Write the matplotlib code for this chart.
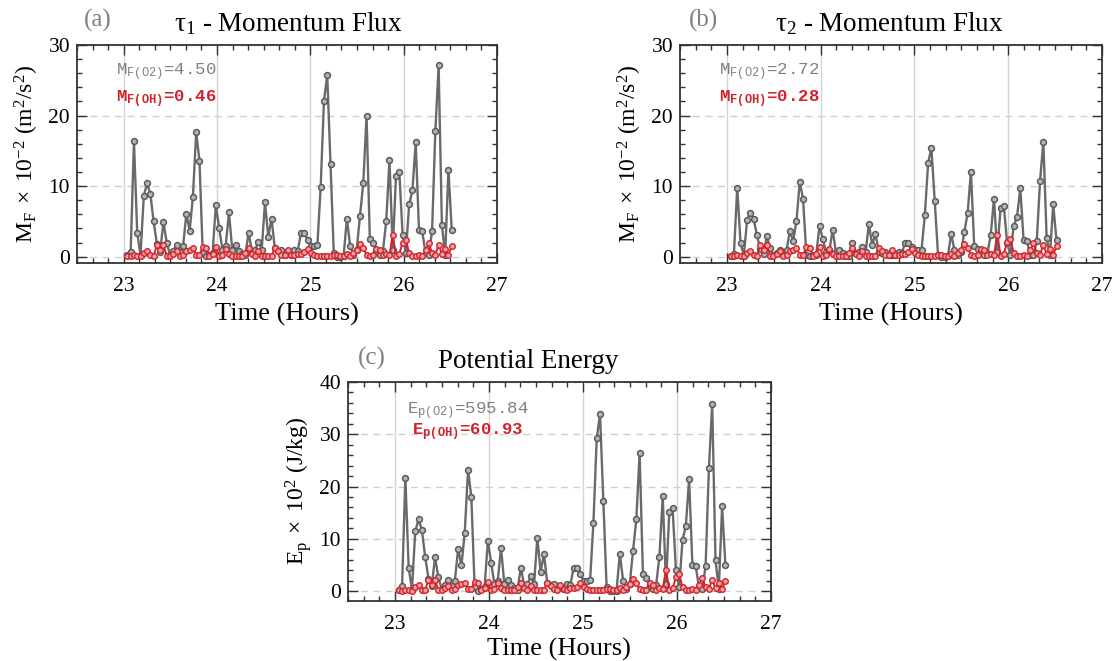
import numpy as np
import matplotlib
matplotlib.use("Agg")
import matplotlib.pyplot as plt
from matplotlib.ticker import MultipleLocator

# ---------------- data ----------------
t_start = 23.04          # hours
t_step = 0.0351          # sampling step (hours)

mf1_o2 = [0.2, 0.7, 16.4, 3.4, 0.2, 8.6, 10.4, 8.9, 5.0, 1.8,
          0.7, 4.9, 2.0, 0.3, 0.8, 1.7, 0.7, 1.5, 6.1, 3.7,
          8.5, 17.6, 13.6, 0.5, 0.1, 0.3, 0.5, 7.3, 4.1, 1.0,
          1.5, 6.3, 1.0, 1.7, 0.8, 0.4, 0.2, 3.4, 0.8, 1.0,
          2.1, 1.0, 7.7, 2.8, 5.4, 1.2, 0.8, 1.0, 0.3, 0.5,
          0.3, 1.0, 0.8, 3.4, 3.4, 2.4, 1.5, 1.5, 1.7, 9.9,
          22.1, 25.7, 13.1, 0.5, 0.0, 0.0, 0.1, 5.4, 1.5, 0.3,
          1.0, 5.8, 10.4, 20.0, 2.5, 1.9, 0.8, 0.3, 0.8, 5.0,
          13.7, 1.0, 11.5, 12.0, 3.1, 0.5, 7.4, 9.4, 16.2, 3.8,
          3.6, 0.5, 0.3, 3.6, 17.8, 27.1, 4.5, 0.3, 12.3, 3.8]

mf1_oh = [0.15, 0.1, 0.25, 0.15, 0.1, 0.5, 0.85, 0.25, 0.15, 1.6,
          0.9, 1.6, 0.15, 0.15, 0.4, 0.75, 0.15, 0.3, 0.85, 1.0,
          1.2, 0.3, 0.3, 1.35, 1.2, 0.15, 0.4, 1.35, 0.15, 0.3,
          1.1, 0.4, 0.15, 0.15, 0.15, 0.15, 0.5, 1.2, 0.4, 0.15,
          0.75, 0.15, 0.15, 0.15, 0.15, 1.2, 0.75, 0.3, 0.2, 0.9,
          0.3, 0.2, 0.4, 0.4, 0.6, 1.1, 0.5, 0.3, 0.15, 0.15,
          0.15, 0.15, 0.15, 0.3, 0.3, 0.15, 0.15, 0.4, 0.15, 0.5,
          1.0, 1.8, 1.2, 0.3, 0.15, 0.2, 1.1, 0.9, 0.2, 0.4,
          0.3, 3.1, 0.15, 0.4, 2.0, 2.4, 0.5, 0.15, 0.15, 0.3,
          0.15, 0.9, 1.9, 0.5, 0.3, 1.7, 0.4, 1.1, 0.3, 1.45]

mf2_o2 = [0.1, 0.4, 9.8, 2.0, 0.1, 5.2, 6.2, 5.3, 3.0, 1.1,
          0.4, 2.9, 1.2, 0.2, 0.5, 1.0, 0.4, 0.9, 3.7, 2.2,
          5.1, 10.6, 8.2, 0.3, 0.1, 0.2, 0.3, 4.4, 2.5, 0.6,
          0.9, 3.8, 0.6, 1.0, 0.5, 0.2, 0.1, 2.0, 0.5, 0.6,
          1.3, 0.6, 4.6, 1.7, 3.2, 0.7, 0.5, 0.6, 0.2, 0.3,
          0.2, 0.6, 0.5, 2.0, 2.0, 1.4, 0.9, 0.9, 1.0, 5.9,
          13.3, 15.4, 7.9, 0.3, 0.0, 0.0, 0.1, 3.2, 0.9, 0.2,
          0.6, 3.5, 6.2, 12.0, 1.5, 1.1, 0.5, 0.2, 0.5, 3.0,
          8.2, 0.6, 6.9, 7.2, 1.9, 0.3, 4.4, 5.6, 9.7, 2.3,
          2.2, 0.3, 0.2, 2.2, 10.7, 16.3, 2.7, 0.2, 7.4, 2.3]

mf2_oh = [0.15, 0.1, 0.25, 0.15, 0.1, 0.5, 0.85, 0.25, 0.15, 1.6,
          0.9, 1.6, 0.15, 0.15, 0.4, 0.75, 0.15, 0.3, 0.85, 1.0,
          1.2, 0.3, 0.3, 1.3, 1.2, 0.15, 0.4, 1.4, 0.15, 0.3,
          1.1, 0.4, 0.15, 0.15, 0.15, 0.15, 0.5, 1.2, 0.4, 0.15,
          0.75, 0.15, 0.15, 0.15, 0.15, 1.2, 0.75, 0.3, 0.2, 0.9,
          0.3, 0.2, 0.4, 0.4, 0.6, 1.1, 0.5, 0.3, 0.15, 0.15,
          0.15, 0.15, 0.15, 0.3, 0.3, 0.15, 0.15, 0.4, 0.15, 0.5,
          1.0, 1.8, 1.2, 0.3, 0.15, 0.2, 1.1, 0.9, 0.2, 0.4,
          0.3, 3.1, 0.15, 0.4, 2.1, 2.45, 0.5, 0.15, 0.15, 0.3,
          0.15, 0.9, 1.9, 0.5, 0.3, 1.7, 0.4, 1.1, 0.3, 1.45]

ep_o2 = [0.3, 0.9, 21.6, 4.5, 0.3, 11.4, 13.7, 11.7, 6.6, 2.4,
         0.9, 6.5, 2.6, 0.4, 1.1, 2.2, 0.9, 2.0, 8.1, 4.9,
         11.2, 23.2, 18.0, 0.7, 0.1, 0.4, 0.7, 9.6, 5.4, 1.3,
         2.0, 8.3, 1.3, 2.2, 1.1, 0.5, 0.3, 4.5, 1.1, 1.3,
         2.8, 1.3, 10.2, 3.7, 7.1, 1.6, 1.1, 1.3, 0.4, 0.7,
         0.4, 1.3, 1.1, 4.5, 4.5, 3.2, 2.0, 2.0, 2.2, 13.1,
         29.2, 33.9, 17.3, 0.7, 0.0, 0.0, 0.1, 7.1, 2.0, 0.4,
         1.3, 7.7, 13.7, 26.4, 3.3, 2.5, 1.1, 0.4, 1.1, 6.6,
         18.1, 1.3, 15.2, 15.8, 4.1, 0.7, 9.8, 12.4, 21.4, 5.0,
         4.8, 0.7, 0.4, 4.8, 23.5, 35.8, 5.9, 0.4, 16.2, 5.0]

ep_oh = [0.2, 0.1, 0.3, 0.2, 0.1, 0.7, 1.1, 0.3, 0.2, 2.1,
         1.2, 2.1, 0.2, 0.2, 0.5, 1.0, 0.2, 0.4, 1.1, 1.3,
         1.6, 0.4, 0.4, 1.8, 1.6, 0.2, 0.5, 1.8, 0.2, 0.4,
         1.5, 0.5, 0.2, 0.2, 0.2, 0.2, 0.7, 1.6, 0.5, 0.2,
         1.0, 0.2, 0.2, 0.2, 0.2, 1.6, 1.0, 0.4, 0.3, 1.2,
         0.4, 0.3, 0.5, 0.5, 0.8, 1.5, 0.7, 0.4, 0.2, 0.2,
         0.2, 0.2, 0.2, 0.4, 0.4, 0.2, 0.2, 0.5, 0.2, 0.7,
         1.3, 2.4, 1.6, 0.4, 0.2, 0.3, 1.5, 1.2, 0.3, 0.5,
         0.4, 4.1, 0.2, 0.5, 2.6, 3.2, 0.7, 0.2, 0.2, 0.4,
         0.2, 1.2, 2.5, 0.7, 0.4, 2.2, 0.5, 1.5, 0.4, 1.9]

xticks = [23, 24, 25, 26, 27]
titles = ["\u03c4$_\\mathregular{1}$ - Momentum Flux",
          "\u03c4$_\\mathregular{2}$ - Momentum Flux",
          "Potential Energy"]
panel_tags = ["(a)", "(b)", "(c)"]
notes_o2 = ["M$_\\mathregular{F(O2)}$=4.50", "M$_\\mathregular{F(O2)}$=2.72",
            "E$_\\mathregular{p(O2)}$=595.84"]
notes_oh = ["M$_\\mathregular{F(OH)}$=0.46", "M$_\\mathregular{F(OH)}$=0.28",
            "E$_\\mathregular{p(OH)}$=60.93"]

# ---------------- style ----------------
SERIF = ["Liberation Serif", "DejaVu Serif"]
MONO = ["Liberation Mono", "DejaVu Sans Mono"]
GRAY = "#6a6a6a"
GRAY_FACE = "#b5b5b5"
RED = "#d2222b"
RED_FACE = "#f2a0a0"
FRAME = "#333333"

plt.rcParams["font.family"] = SERIF
plt.rcParams["mathtext.default"] = "regular"

W, H = 1115, 661
fig = plt.figure(figsize=(W / 100, H / 100), dpi=100)


def px_axes(l, r, t, b):
    return fig.add_axes([l / W, 1 - b / H, (r - l) / W, (b - t) / H])


ax_a = px_axes(77, 497, 45, 263)
ax_b = px_axes(680, 1102, 45, 263)
ax_c = px_axes(348, 771, 382, 601)


def draw(ax, o2, oh, ylim, yticks, note_xy, note2_xy, i):
    n = len(o2)
    t = t_start + t_step * np.arange(n)
    ax.set_xlim(22.5, 27)
    ax.set_ylim(*ylim)
    for xv in xticks:
        ax.axvline(xv, color="#d4d4d4", lw=1.0, zorder=0)
    for yv in yticks:
        ax.axhline(yv, color="#cfcfcf", lw=1.0, ls=(0, (5, 4)), zorder=0)
    ax.plot(t, o2, "-o", color=GRAY, lw=1.7, ms=4.2, mew=1.1,
            mfc=GRAY_FACE, mec="#5a5a5a", zorder=3)
    ax.plot(t, oh, "-o", color=RED, lw=1.4, ms=4.0, mew=1.0,
            mfc=RED_FACE, mec=RED, zorder=4)
    ax.set_xticks(xticks)
    ax.set_yticks(yticks)
    ax.xaxis.set_minor_locator(MultipleLocator(1 / 6))
    ax.yaxis.set_minor_locator(MultipleLocator(2))
    ax.tick_params(which="both", direction="in", top=True, right=True,
                   colors=FRAME, labelcolor="black", labelsize=15.5,
                   width=1.0)
    ax.tick_params(which="major", length=7)
    ax.tick_params(which="minor", length=3.5)
    ax.tick_params(axis="x", pad=10)
    ax.tick_params(axis="y", pad=5)
    for s in ax.spines.values():
        s.set_color(FRAME)
        s.set_linewidth(1.3)
    ax.text(note_xy[0], note_xy[1], notes_o2[i], transform=ax.transAxes,
            family=MONO, fontsize=12.5, color="#808080", va="center")
    ax.text(note2_xy[0], note2_xy[1], notes_oh[i], transform=ax.transAxes,
            family=MONO, fontsize=12.5, color=RED, va="center",
            fontweight="bold")


draw(ax_a, mf1_o2, mf1_oh, (-0.9, 30), [0, 10, 20, 30],
     (0.093, 0.875), (0.093, 0.75), 0)
draw(ax_b, mf2_o2, mf2_oh, (-0.9, 30), [0, 10, 20, 30],
     (0.093, 0.875), (0.093, 0.75), 1)
draw(ax_c, ep_o2, ep_oh, (-1.9, 40), [0, 10, 20, 30, 40],
     (0.14, 0.865), (0.152, 0.77), 2)


def ftext(x, y, s, **kw):
    fig.text(x / W, 1 - y / H, s, **kw)


# titles and tags
ftext(288, 24, titles[0], ha="center", va="center", fontsize=19.5)
ftext(889, 24, titles[1], ha="center", va="center", fontsize=19.5)
ftext(528, 361, titles[2], ha="center", va="center", fontsize=19.5)
ftext(98, 20, panel_tags[0], ha="center", va="center", fontsize=18, color="#808080")
ftext(703, 20, panel_tags[1], ha="center", va="center", fontsize=18, color="#808080")
ftext(372, 358, panel_tags[2], ha="center", va="center", fontsize=18, color="#808080")

# x labels
ftext(287, 314, "Time (Hours)", ha="center", va="center", fontsize=19)
ftext(891, 314, "Time (Hours)", ha="center", va="center", fontsize=19)
ftext(559, 649, "Time (Hours)", ha="center", va="center", fontsize=19)

# y labels
ylab_mf = ("M$_\\mathregular{F}$$\\,\\times\\,$10$^\\mathregular{-2}$ "
           "(m$^\\mathregular{2}$/s$^\\mathregular{2}$)")
ylab_ep = "E$_\\mathregular{p}$$\\,\\times\\,$10$^\\mathregular{2}$ (J/kg)"
ftext(27, 154, ylab_mf, ha="center", va="center", rotation=90, fontsize=17)
ftext(630, 154, ylab_mf, ha="center", va="center", rotation=90, fontsize=17)
ftext(298, 491, ylab_ep, ha="center", va="center", rotation=90, fontsize=17)

fig.savefig("out.png", dpi=100)
